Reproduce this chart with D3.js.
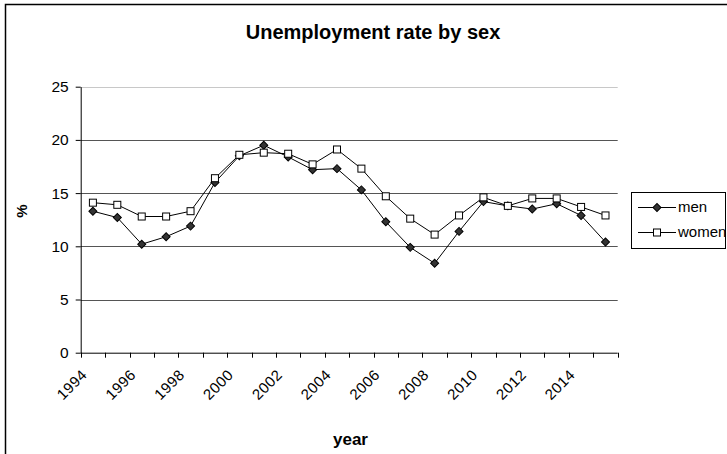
<!DOCTYPE html>
<html>
<head>
<meta charset="utf-8">
<script src="https://cdn.jsdelivr.net/npm/d3@7"></script>
<style>
  html, body { margin: 0; padding: 0; background: #fff; }
  svg { display: block; font-family: "Liberation Sans", Arial, sans-serif; }
</style>
</head>
<body>
<svg id="chart" width="727" height="454"></svg>
<script>
// Unemployment rate (%) by sex, 1994-2015
const years = [1994, 1995, 1996, 1997, 1998, 1999, 2000, 2001, 2002, 2003, 2004,
               2005, 2006, 2007, 2008, 2009, 2010, 2011, 2012, 2013, 2014, 2015];
const men = [13.3, 12.7, 10.2, 10.9, 11.9, 16.0, 18.5, 19.5, 18.4, 17.2, 17.3,
             15.3, 12.3, 9.9, 8.4, 11.4, 14.2, 13.8, 13.5, 14.0, 12.9, 10.4];
const women = [14.1, 13.9, 12.8, 12.8, 13.3, 16.4, 18.6, 18.8, 18.7, 17.7, 19.1,
               17.3, 14.7, 12.6, 11.1, 12.9, 14.6, 13.8, 14.5, 14.5, 13.7, 12.9];
const yTicks = [0, 5, 10, 15, 20, 25];
const labelYears = years.filter((d, i) => i % 2 === 0);

const svg = d3.select("#chart");
const W = 727, H = 454;
const plot = { left: 80.7, right: 617.7, top: 86.7, bottom: 352.7 };

// outer chart frame (bleeds off right and bottom edges)
svg.append("rect")
  .attr("x", 5.5).attr("y", 4.5)
  .attr("width", W).attr("height", H)
  .attr("fill", "none").attr("stroke", "#000").attr("stroke-width", 1.5);

const x = d3.scaleBand().domain(years).range([plot.left, plot.right]);
const y = d3.scaleLinear().domain([0, 25]).range([plot.bottom, plot.top]);

// horizontal gridlines
svg.append("g")
  .selectAll("line")
  .data(yTicks.filter(t => t > 0))
  .join("line")
  .attr("x1", plot.left).attr("x2", plot.right)
  .attr("y1", d => Math.round(y(d)) + 0.5).attr("y2", d => Math.round(y(d)) + 0.5)
  .attr("stroke", d => d === 25 ? "#c8c8c8" : "#555")
  .attr("stroke-width", 1);

// y axis
const yAxis = svg.append("g")
  .attr("transform", `translate(${plot.left},0)`)
  .call(d3.axisLeft(y).tickValues(yTicks).tickSize(5).tickPadding(7).tickSizeOuter(0));
yAxis.select(".domain").attr("stroke", "#000");
yAxis.selectAll(".tick line").attr("stroke", "#000");
yAxis.selectAll(".tick text")
  .attr("font-size", 15.5).attr("fill", "#000")
  .style("font-family", "Liberation Sans, Arial, sans-serif");

// x axis: ticks on band boundaries, labels every other year, rotated
const xg = svg.append("g").attr("transform", `translate(0,${plot.bottom})`);
xg.append("line")
  .attr("x1", plot.left).attr("x2", plot.right)
  .attr("y1", 0.5).attr("y2", 0.5).attr("stroke", "#000");
const boundaries = years.map(d => x(d)).concat([plot.right]);
xg.selectAll("line.tk")
  .data(boundaries)
  .join("line").attr("class", "tk")
  .attr("x1", d => Math.round(d) + 0.5).attr("x2", d => Math.round(d) + 0.5)
  .attr("y1", 0).attr("y2", 5).attr("stroke", "#000");
xg.selectAll("text")
  .data(labelYears)
  .join("text")
  .attr("transform", d => `translate(${x(d) + x.bandwidth() / 2 - 5},${23}) rotate(-45)`)
  .attr("text-anchor", "end")
  .attr("font-size", 15)
  .attr("letter-spacing", 0.5)
  .attr("fill", "#000")
  .text(d => d);

// series lines and markers
const cx = d => x(d) + x.bandwidth() / 2;
const line = d3.line().x((d, i) => cx(years[i])).y(d => y(d));

svg.append("path").datum(women).attr("d", line)
  .attr("fill", "none").attr("stroke", "#000").attr("stroke-width", 1);
svg.append("path").datum(men).attr("d", line)
  .attr("fill", "none").attr("stroke", "#000").attr("stroke-width", 1);

const diamondPath = d3.symbol().type(d3.symbolSquare).size(32)();

svg.append("g").selectAll("path")
  .data(men).join("path")
  .attr("d", diamondPath)
  .attr("transform", (d, i) => `translate(${cx(years[i])},${y(d)}) rotate(45)`)
  .attr("fill", "#333").attr("stroke", "#000").attr("stroke-width", 1);

svg.append("g").selectAll("rect")
  .data(women).join("rect")
  .attr("x", (d, i) => cx(years[i]) - 3.5)
  .attr("y", d => y(d) - 3.5)
  .attr("width", 7).attr("height", 7)
  .attr("fill", "#fff").attr("stroke", "#000").attr("stroke-width", 1);

// title and axis titles
svg.append("text")
  .attr("x", 373).attr("y", 38.5)
  .attr("text-anchor", "middle")
  .attr("font-size", 20).attr("font-weight", "bold")
  .text("Unemployment rate by sex");

svg.append("text")
  .attr("transform", "translate(27,211) rotate(-90)")
  .attr("text-anchor", "middle")
  .attr("font-size", 15).attr("font-weight", "bold")
  .text("%");

svg.append("text")
  .attr("x", 350.5).attr("y", 445)
  .attr("text-anchor", "middle")
  .attr("font-size", 17).attr("font-weight", "bold")
  .text("year");

// legend
const lg = svg.append("g");
lg.append("rect")
  .attr("x", 631.5).attr("y", 192.5)
  .attr("width", 94).attr("height", 56)
  .attr("fill", "#fff").attr("stroke", "#000").attr("stroke-width", 1);
const items = [{ name: "men", yy: 207 }, { name: "women", yy: 232 }];
items.forEach((it, k) => {
  lg.append("line")
    .attr("x1", 638).attr("x2", 676)
    .attr("y1", it.yy + 0.5).attr("y2", it.yy + 0.5)
    .attr("stroke", "#000");
  if (k === 0) {
    lg.append("path")
      .attr("d", diamondPath)
      .attr("transform", `translate(657,${it.yy + 0.5}) rotate(45)`)
      .attr("fill", "#333").attr("stroke", "#000");
  } else {
    lg.append("rect")
      .attr("x", 653.5).attr("y", it.yy - 3)
      .attr("width", 7).attr("height", 7)
      .attr("fill", "#fff").attr("stroke", "#000");
  }
  lg.append("text")
    .attr("x", 678).attr("y", it.yy + 5)
    .attr("font-size", 15)
    .text(it.name);
});
</script>
</body>
</html>
